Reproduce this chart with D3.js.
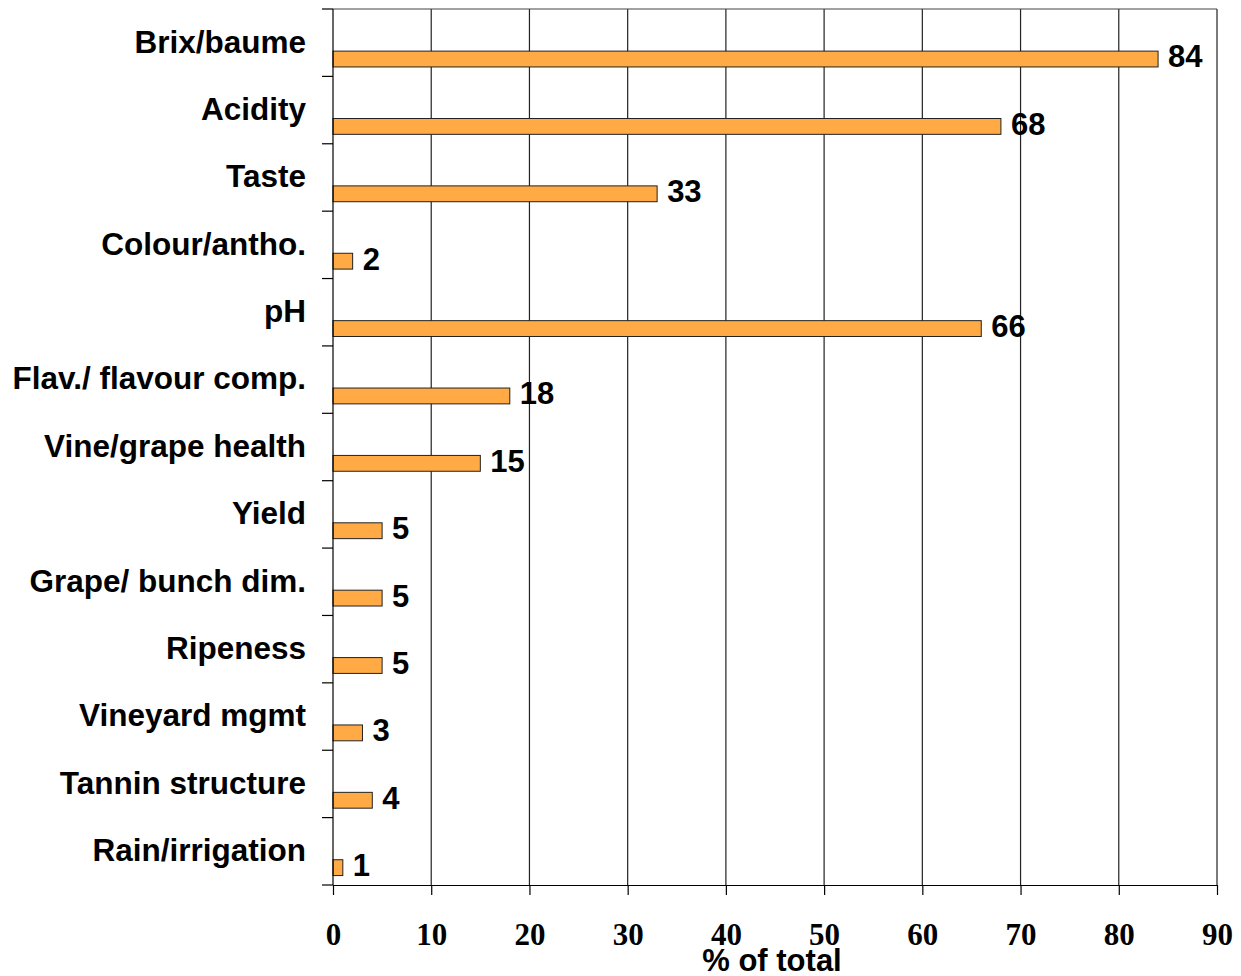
<!DOCTYPE html>
<html>
<head>
<meta charset="utf-8">
<script src="https://cdn.jsdelivr.net/npm/d3@7"></script>
<style>
  html, body { margin: 0; padding: 0; background: #fff; }
  svg { display: block; }
</style>
</head>
<body>
<svg id="chart" width="1241" height="976"></svg>
<script>
// Indicators used to decide harvest timing, share of responses (%)
const categories = [
  "Brix/baume", "Acidity", "Taste", "Colour/antho.", "pH",
  "Flav./ flavour comp.", "Vine/grape health", "Yield",
  "Grape/ bunch dim.", "Ripeness", "Vineyard mgmt",
  "Tannin structure", "Rain/irrigation"
];
const values = [84, 68, 33, 2, 66, 18, 15, 5, 5, 5, 3, 4, 1];
const xTicks = [0, 10, 20, 30, 40, 50, 60, 70, 80, 90];
const xTitle = "% of total";

const svg = d3.select("#chart");
const plot = { left: 333, right: 1217, top: 9, bottom: 885 };

const x = d3.scaleLinear().domain([0, 90]).range([plot.left, plot.right]);
const y = d3.scaleBand().domain(categories).range([plot.top, plot.bottom]).padding(0);
const bw = y.bandwidth();

const sans = "'Liberation Sans', Arial, Helvetica, sans-serif";
const serif = "'Liberation Serif', 'Times New Roman', serif";

// vertical gridlines
svg.append("g").selectAll("line").data(xTicks.slice(1)).join("line")
  .attr("x1", d => x(d)).attr("x2", d => x(d))
  .attr("y1", plot.top).attr("y2", plot.bottom)
  .attr("stroke", "#222").attr("stroke-width", 1.2);

// top border
svg.append("line")
  .attr("x1", plot.left).attr("x2", plot.right)
  .attr("y1", plot.top).attr("y2", plot.top)
  .attr("stroke", "#444").attr("stroke-width", 1.2);

// bars
const barTop = bw * 0.625, barH = bw * 0.235;
svg.append("g").selectAll("rect").data(categories).join("rect")
  .attr("x", x(0))
  .attr("y", c => y(c) + barTop)
  .attr("width", (c, i) => x(values[i]) - x(0))
  .attr("height", barH)
  .attr("fill", "#FFAA44")
  .attr("stroke", "#222").attr("stroke-width", 1);

// value labels
svg.append("g").selectAll("text").data(categories).join("text")
  .attr("x", (c, i) => x(values[i]) + 10)
  .attr("y", c => y(c) + barTop + barH + 0.5)
  .attr("font-family", sans).attr("font-weight", "bold").attr("font-size", 31)
  .attr("fill", "#000")
  .text((c, i) => values[i]);

// category axis (left)
const yAxis = svg.append("g");
yAxis.append("line")
  .attr("x1", plot.left).attr("x2", plot.left)
  .attr("y1", plot.top).attr("y2", plot.bottom)
  .attr("stroke", "#000").attr("stroke-width", 1.2);
const bounds = categories.map(c => y(c)).concat([plot.bottom]);
yAxis.selectAll("line.tk").data(bounds).join("line").attr("class", "tk")
  .attr("x1", plot.left - 11).attr("x2", plot.left)
  .attr("y1", d => d).attr("y2", d => d)
  .attr("stroke", "#000").attr("stroke-width", 1.2);
yAxis.selectAll("text").data(categories).join("text")
  .attr("x", 306)
  .attr("y", c => y(c) + 43.5)
  .attr("text-anchor", "end")
  .attr("font-family", sans).attr("font-weight", "bold").attr("font-size", 31.5)
  .attr("fill", "#000")
  .text(c => c);

// value axis (bottom)
const xAxis = d3.axisBottom(x).tickValues(xTicks).tickSize(10).tickPadding(28).tickSizeOuter(0);
const gx = svg.append("g").attr("transform", `translate(0,${plot.bottom})`).call(xAxis);
gx.select(".domain").attr("stroke", "#000").attr("stroke-width", 1.2);
gx.selectAll(".tick line").attr("stroke", "#000").attr("stroke-width", 1.2);
gx.selectAll(".tick text")
  .attr("font-family", serif).attr("font-weight", "bold").attr("font-size", 31)
  .attr("fill", "#000");

svg.append("text")
  .attr("x", (plot.left + plot.right) / 2 - 3)
  .attr("y", 971)
  .attr("text-anchor", "middle")
  .attr("font-family", sans).attr("font-weight", "bold").attr("font-size", 31)
  .attr("fill", "#000")
  .text(xTitle);
</script>
</body>
</html>
